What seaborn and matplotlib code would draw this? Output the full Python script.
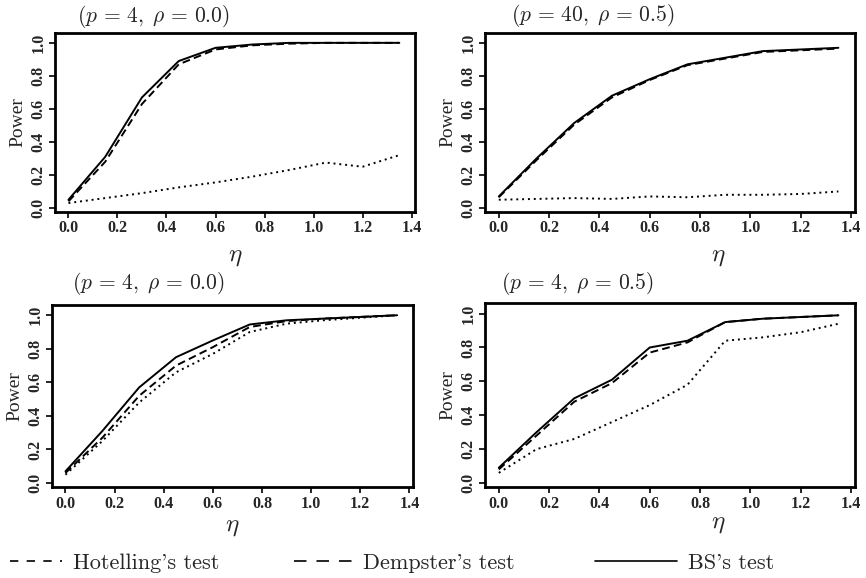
import numpy as np
import pandas as pd
import matplotlib
matplotlib.use("Agg")
import matplotlib.pyplot as plt
from matplotlib.lines import Line2D
import seaborn as sns

# --- DATA ---
ETA = [0.0, 0.15, 0.30, 0.45, 0.60, 0.75, 0.90, 1.05, 1.20, 1.35]
TESTS = ["Hotelling's test", "Dempster's test", "BS's test"]

TITLES = [r"$(p\,=\,4,\;\rho\,=\,0.0)$", r"$(p\,=\,40,\;\rho\,=\,0.5)$",
          r"$(p\,=\,4,\;\rho\,=\,0.0)$", r"$(p\,=\,4,\;\rho\,=\,0.5)$"]

# panel 1 (top left)
P1_HOT = [0.03, 0.06, 0.09, 0.125, 0.155, 0.19, 0.23, 0.275, 0.25, 0.32]
P1_DEM = [0.04, 0.28, 0.63, 0.87, 0.96, 0.985, 0.995, 1.0, 1.0, 1.0]
P1_BS = [0.05, 0.31, 0.67, 0.89, 0.97, 0.99, 1.0, 1.0, 1.0, 1.0]
# panel 2 (top right)
P2_HOT = [0.05, 0.055, 0.06, 0.055, 0.07, 0.065, 0.08, 0.08, 0.085, 0.10]
P2_DEM = [0.065, 0.29, 0.505, 0.67, 0.775, 0.865, 0.905, 0.945, 0.955, 0.965]
P2_BS = [0.07, 0.30, 0.515, 0.68, 0.78, 0.87, 0.91, 0.95, 0.96, 0.97]
# panel 3 (bottom left)
P3_HOT = [0.05, 0.25, 0.48, 0.66, 0.77, 0.90, 0.95, 0.97, 0.985, 1.0]
P3_DEM = [0.06, 0.27, 0.52, 0.70, 0.81, 0.93, 0.965, 0.98, 0.99, 1.0]
P3_BS = [0.07, 0.31, 0.57, 0.75, 0.85, 0.945, 0.97, 0.98, 0.99, 1.0]
# panel 4 (bottom right)
P4_HOT = [0.06, 0.20, 0.26, 0.36, 0.46, 0.58, 0.84, 0.86, 0.89, 0.94]
P4_DEM = [0.08, 0.28, 0.48, 0.59, 0.77, 0.83, 0.95, 0.97, 0.98, 0.99]
P4_BS = [0.09, 0.30, 0.50, 0.61, 0.80, 0.84, 0.95, 0.97, 0.98, 0.99]

PANELS = [(P1_HOT, P1_DEM, P1_BS), (P2_HOT, P2_DEM, P2_BS),
          (P3_HOT, P3_DEM, P3_BS), (P4_HOT, P4_DEM, P4_BS)]

DASHES = {"Hotelling's test": (1, 2), "Dempster's test": (4, 2.2), "BS's test": ""}

# axes rectangles in figure fraction
RECTS = [(0.0635, 0.633, 0.416, 0.310), (0.560, 0.633, 0.427, 0.310),
         (0.060, 0.157, 0.417, 0.315), (0.560, 0.157, 0.427, 0.318)]
TITLE_POS = [(0.06, 1.09), (0.07, 1.10), (0.055, 1.12), (0.043, 1.11)]
ETA_POS = [(0.5, -0.25), (0.63, -0.25), (0.5, -0.22), (0.63, -0.20)]

# legend entries: (handle dashes, handle length, left anchor in fig fraction)
LEG = [((5.0, 5.0), 2.3, 0.012), ((7.5, 6.0), 2.6, 0.340), (None, 3.7, 0.687)]


def make_frame(hot, dem, bs):
    rows = []
    for name, vals in zip(TESTS, (hot, dem, bs)):
        for e, v in zip(ETA, vals):
            rows.append({"eta": e, "power": v, "test": name})
    return pd.DataFrame(rows)


def main():
    sns.set_style("ticks")
    plt.rcParams["font.family"] = ["Liberation Serif", "DejaVu Serif"]
    plt.rcParams["mathtext.fontset"] = "cm"

    fig = plt.figure(figsize=(8.66, 5.78), dpi=100)

    for i, (series, rect) in enumerate(zip(PANELS, RECTS)):
        ax = fig.add_axes(rect)
        df = make_frame(*series)
        sns.lineplot(data=df, x="eta", y="power", style="test", dashes=DASHES,
                     color="black", linewidth=1.4, legend=False, ax=ax)
        ax.set_xlim(-0.055, 1.415)
        ax.set_ylim(-0.025, 1.06)
        ax.set_xticks(np.arange(0, 1.41, 0.2))
        ax.set_yticks(np.arange(0, 1.01, 0.2))
        ax.set_xticklabels([f"{t:.1f}" for t in np.arange(0, 1.41, 0.2)],
                           fontweight="bold", fontsize=11.5)
        ax.set_yticklabels([f"{t:.1f}" for t in np.arange(0, 1.01, 0.2)],
                           fontweight="bold", fontsize=11.5, rotation=90, va="center")
        ax.tick_params(direction="out", length=4, width=1.2, color="black", pad=2)
        for sp in ax.spines.values():
            sp.set_linewidth(2)
            sp.set_color("black")
        ax.set_xlabel("")
        ax.set_ylabel("Power", fontsize=14, labelpad=3)
        tx, ty = TITLE_POS[i]
        ax.text(tx, ty, TITLES[i], transform=ax.transAxes, fontsize=15.5,
                ha="left", va="center")
        ex, ey = ETA_POS[i]
        ax.text(ex, ey, r"$\eta$", transform=ax.transAxes, fontsize=18,
                ha="center", va="center")

    # bottom legend: one entry per legend so each key can have its own length
    for name, (dash, hlen, left) in zip(TESTS, LEG):
        h = Line2D([], [], color="black", lw=1.2)
        if dash is not None:
            h.set_dashes(dash)
        fig.legend([h], [name], loc="center left", bbox_to_anchor=(left, 0.026),
                   frameon=False, handlelength=hlen, handletextpad=0.5,
                   borderpad=0, borderaxespad=0,
                   prop={"family": ["cmr10", "DejaVu Serif"], "size": 16})

    fig.savefig("out.png", dpi=100)


if __name__ == "__main__":
    main()
